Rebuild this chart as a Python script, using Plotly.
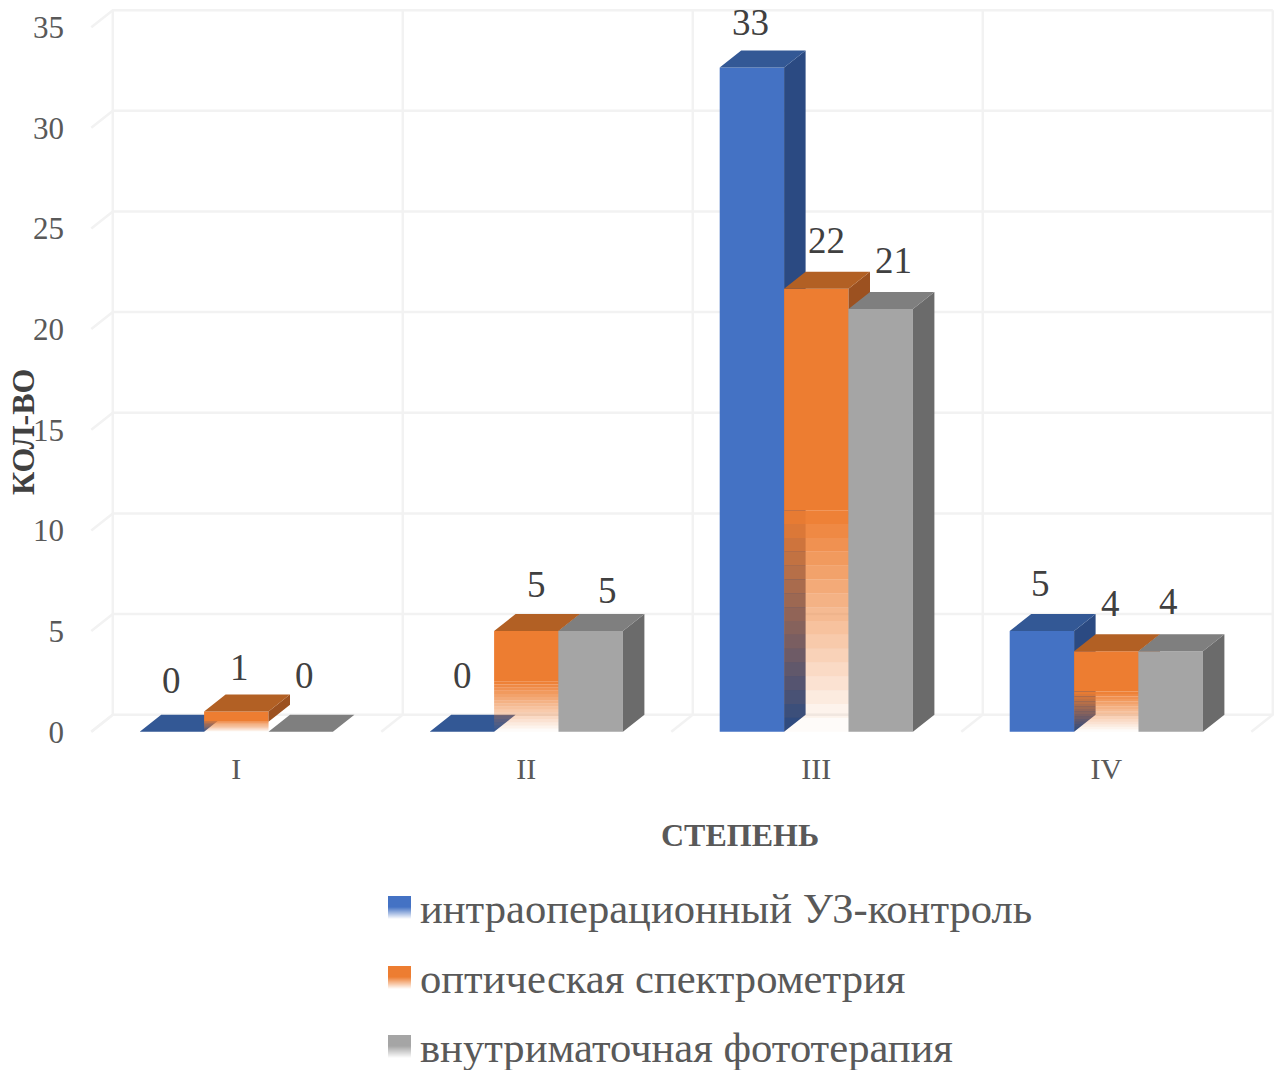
import plotly.graph_objects as go

# Chart data
categories = ["I", "II", "III", "IV"]
series_names = [
    "интраоперационный УЗ-контроль",
    "оптическая спектрометрия",
    "внутриматочная фототерапия",
]
ultrasound = [0, 0, 33, 5]
spectrometry = [1, 5, 22, 4]
phototherapy = [0, 5, 21, 4]
y_ticks = [0, 5, 10, 15, 20, 25, 30, 35]

# Face colours per series: front, side, top
front_colors = ["#4472C4", "#ED7D31", "#A5A5A5"]
side_colors = ["#2B4A82", "#9C5120", "#6B6B6B"]
top_colors = ["#335895", "#B26024", "#7F7F7F"]
orange_rgb = "237,125,49"
GRID = "#F2F2F2"
TICK_TEXT = "#595959"
LABEL_TEXT = "#404040"
SERIF = "Liberation Serif"

# Page geometry
W, H = 1281, 1070
PLOT_L, PLOT_R, PLOT_T, PLOT_B = 88, 1276, 8, 734
ZERO_PX = 731.7
PX_PER_UNIT = 20.13
PX_PER_CAT = 290.0
FIRST_CAT_PX = 236.3

# Depth of the pseudo-3D extrusion, in axis units
DX = 21.5 / PX_PER_CAT
DY = 17.0 / PX_PER_UNIT
BAR_W = 64.4 / PX_PER_CAT
N_BANDS = 16

x_range = [(PLOT_L - FIRST_CAT_PX) / PX_PER_CAT, (PLOT_R - FIRST_CAT_PX) / PX_PER_CAT]
y_range = [(ZERO_PX - PLOT_B) / PX_PER_UNIT, (ZERO_PX - PLOT_T) / PX_PER_UNIT]


def paper_x(px):
    return (px - PLOT_L) / (PLOT_R - PLOT_L)


def paper_y(px):
    return (PLOT_B - px) / (PLOT_B - PLOT_T)


def polygons(faces, color, zorder):
    """One filled trace holding several polygons."""
    xs, ys = [], []
    for face in faces:
        xs += [p[0] for p in face] + [face[0][0], None]
        ys += [p[1] for p in face] + [face[0][1], None]
    return go.Scatter(
        x=xs, y=ys, mode="lines", fill="toself", fillcolor=color,
        line=dict(width=0, color=color), hoverinfo="skip",
        showlegend=False, zorder=zorder,
    )


def side_face(x_right, y0, y1):
    return [(x_right, y0), (x_right + DX, y0 + DY), (x_right + DX, y1 + DY), (x_right, y1)]


def top_face(x_left, y):
    return [(x_left, y), (x_left + DX, y + DY), (x_left + BAR_W + DX, y + DY), (x_left + BAR_W, y)]


fig = go.Figure()

# Back wall, left wall and floor grid
x_left_wall = -0.5 + DX
x_right_wall = 3.5 + DX
gx, gy = [], []
for t in y_ticks:
    gx += [-0.5, x_left_wall, x_right_wall, None]
    gy += [t, t + DY, t + DY, None]
for i in range(5):
    gx += [i - 0.5, i - 0.5 + DX, i - 0.5 + DX, None]
    gy += [0, DY, y_ticks[-1] + DY, None]
fig.add_trace(go.Scatter(x=gx, y=gy, mode="lines", line=dict(color=GRID, width=2.5),
                         hoverinfo="skip", showlegend=False, zorder=0))

all_series = [ultrasound, spectrometry, phototherapy]
cat_pos = list(range(len(categories)))

for s, values in enumerate(all_series):
    z = s + 1
    lefts = [i + (s - 1.5) * BAR_W for i in cat_pos]
    tops = [top_face(l, v) for l, v in zip(lefts, values)]
    if s == 1:
        # Upper half solid, lower half fading out towards the floor.
        # A hair under full alpha keeps the bar edges on whole pixels, so no seam shows.
        fig.add_trace(go.Bar(
            x=cat_pos, y=[v / 2 for v in values], base=[v / 2 for v in values],
            width=BAR_W, offset=(s - 1.5) * BAR_W, name=series_names[s],
            marker=dict(color=f"rgba({orange_rgb},0.999)", line=dict(width=0)),
            hoverinfo="skip", showlegend=False, zorder=z,
        ))
        for k in range(N_BANDS):
            alpha = (k + 0.5) / N_BANDS
            fig.add_trace(go.Bar(
                x=cat_pos,
                y=[v / (2 * N_BANDS) for v in values],
                base=[v * k / (2 * N_BANDS) for v in values],
                width=BAR_W, offset=(s - 1.5) * BAR_W,
                marker=dict(color=f"rgba({orange_rgb},{alpha:.3f})", line=dict(width=0)),
                hoverinfo="skip", showlegend=False, zorder=z,
            ))
        # Side panel fades the same way
        fig.add_trace(polygons(
            [side_face(l + BAR_W, v / 2, v) for l, v in zip(lefts, values) if v > 0],
            side_colors[s], z))
        for k in range(N_BANDS):
            alpha = (k + 0.5) / N_BANDS
            fig.add_trace(polygons(
                [side_face(l + BAR_W, v * k / (2 * N_BANDS), v * (k + 1) / (2 * N_BANDS))
                 for l, v in zip(lefts, values) if v > 0],
                f"rgba(156,81,32,{alpha:.3f})", z))
    else:
        fig.add_trace(go.Bar(
            x=cat_pos, y=values, width=BAR_W, offset=(s - 1.5) * BAR_W,
            name=series_names[s],
            marker=dict(color=front_colors[s], line=dict(width=0)),
            hoverinfo="skip", showlegend=False, zorder=z,
        ))
        fig.add_trace(polygons(
            [side_face(l + BAR_W, 0, v) for l, v in zip(lefts, values) if v > 0],
            side_colors[s], z))
    fig.add_trace(polygons(tops, top_colors[s], z))

annotations = []

# Value labels, nudged off the bars in pixels
label_nudges = [
    [(-0.5, -51), (1, -56), (-1, -45), (-1, -47.5)],
    [(3, -44), (10.5, -46.5), (10.5, -48), (4.5, -47.5)],
    [(4, -56), (17, -40.5), (13, -48), (-2, -49.5)],
]
for s, values in enumerate(all_series):
    for i, v in enumerate(values):
        dx_px, dy_px = label_nudges[s][i]
        annotations.append(dict(
            x=i + (s - 1) * BAR_W, y=v, xref="x", yref="y", text=str(v), showarrow=False,
            xanchor="center", yanchor="middle", xshift=dx_px, yshift=-dy_px,
            font=dict(family=SERIF, size=37, color=LABEL_TEXT),
        ))

# Axis titles
annotations.append(dict(
    x=paper_x(740), y=paper_y(835), xref="paper", yref="paper", text="<b>СТЕПЕНЬ</b>",
    showarrow=False, xanchor="center", yanchor="middle",
    font=dict(family=SERIF, size=32, color=TICK_TEXT),
))
annotations.append(dict(
    x=paper_x(23), y=paper_y(432), xref="paper", yref="paper", text="<b>КОЛ-ВО</b>",
    showarrow=False, textangle=-90, xanchor="center", yanchor="middle",
    font=dict(family=SERIF, size=32, color=LABEL_TEXT),
))

# Legend: fading swatches with their captions
shapes = []
legend_rows = [910, 980, 1049]
for s, row in enumerate(legend_rows):
    top_px, bottom_px = row - 14, row + 9
    mid_px = top_px + 11
    color = front_colors[s]
    r, g, b = int(color[1:3], 16), int(color[3:5], 16), int(color[5:7], 16)
    shapes.append(dict(type="rect", xref="paper", yref="paper", layer="above",
                       x0=paper_x(388), x1=paper_x(411), y0=paper_y(top_px), y1=paper_y(mid_px),
                       fillcolor=color, line=dict(width=0)))
    n = int(bottom_px - mid_px)
    for k in range(n):
        shapes.append(dict(type="rect", xref="paper", yref="paper", layer="above",
                           x0=paper_x(388), x1=paper_x(411),
                           y0=paper_y(mid_px + k), y1=paper_y(mid_px + k + 1),
                           fillcolor=f"rgba({r},{g},{b},{1 - (k + 0.5) / n:.3f})",
                           line=dict(width=0)))
    annotations.append(dict(
        x=paper_x(418), y=paper_y(row - 2), xref="paper", yref="paper", text=series_names[s],
        showarrow=False, xanchor="left", yanchor="middle",
        font=dict(family=SERIF, size=42.6, color=TICK_TEXT),
    ))

fig.update_layout(
    width=W, height=H,
    margin=dict(l=PLOT_L, r=W - PLOT_R, t=PLOT_T, b=H - PLOT_B, pad=0),
    paper_bgcolor="white", plot_bgcolor="white",
    barmode="overlay", showlegend=False,
    annotations=annotations, shapes=shapes,
    xaxis=dict(
        range=x_range, tickmode="array", tickvals=cat_pos, ticktext=categories,
        showgrid=False, zeroline=False, showline=False, ticks="",
        ticklabelstandoff=14,
        tickfont=dict(family=SERIF, size=30, color=TICK_TEXT),
    ),
    yaxis=dict(
        range=y_range, tickmode="array", tickvals=y_ticks,
        showgrid=False, zeroline=False, showline=False, ticks="",
        ticklabelstandoff=23,
        tickfont=dict(family=SERIF, size=31, color=TICK_TEXT),
    ),
)

fig.write_html("out.html", config=dict(displayModeBar=False))
